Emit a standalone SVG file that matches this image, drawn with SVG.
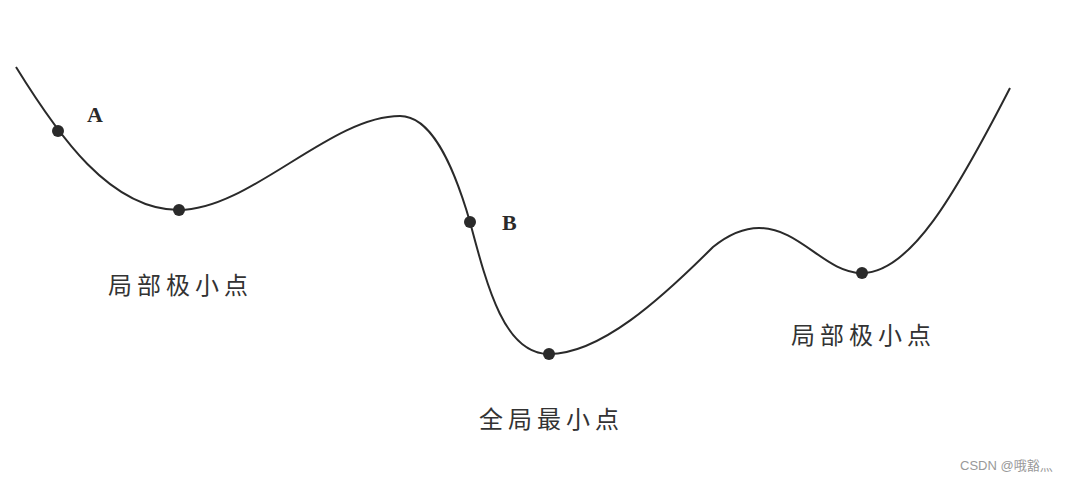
<svg xmlns="http://www.w3.org/2000/svg" width="1075" height="481" viewBox="0 0 1075 481">
<style>
.curve{fill:none;stroke:#2a2a2a;stroke-width:2}
.dot{fill:#2a2a2a}
.lbl{font-family:"Liberation Serif",serif;font-weight:bold;font-size:22px;fill:#2a2a2a}
.cn{font-family:"Noto Sans CJK SC",sans-serif;font-size:24px;fill:#333;letter-spacing:5px}
.wm{font-family:"Liberation Sans","Noto Sans CJK SC",sans-serif;font-size:13px;fill:#999}
</style>
<rect width="1075" height="481" fill="#fff"/>
<g id="connectors">
<path class="curve" d="M16,67 C58,135 110,210 179,210 C250,210 330,116 400,116 C430,116 452,160 470,222 C488,290 505,354 549,354 C600,354 660,300 713,247 C728,235 742,228 759,228 C800,228 825,273 862,273 C910,273 955,195 1010,88"/>
</g>
<g id="pointA"><circle class="dot" cx="58" cy="131" r="6"/><text class="lbl" x="87" y="122">A</text></g>
<g id="localMin1"><circle class="dot" cx="179" cy="210" r="6"/><text class="cn" x="108" y="294">局部极小点</text></g>
<g id="pointB"><circle class="dot" cx="470" cy="222" r="6"/><text class="lbl" x="502" y="230">B</text></g>
<g id="globalMin"><circle class="dot" cx="549" cy="354" r="6"/><text class="cn" x="479" y="428">全局最小点</text></g>
<g id="localMin2"><circle class="dot" cx="862" cy="273" r="6"/><text class="cn" x="791" y="344">局部极小点</text></g>
<text class="wm" x="960" y="470">CSDN @哦豁灬</text>
</svg>
